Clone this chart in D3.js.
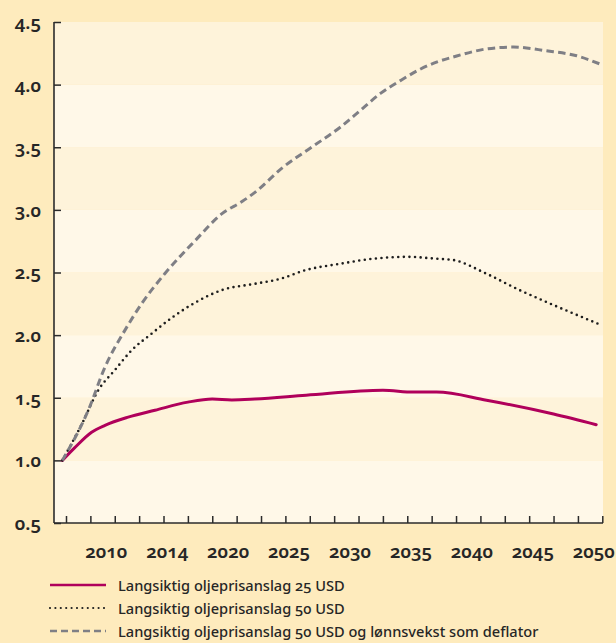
<!DOCTYPE html>
<html>
<head>
<meta charset="utf-8">
<script src="https://cdn.jsdelivr.net/npm/d3@7"></script>
<style>
  html, body { margin: 0; padding: 0; background: #feebbd; }
  svg { display: block; }
  text { font-family: "Noto Sans", sans-serif; font-feature-settings: "onum" 1; font-variant-numeric: oldstyle-nums; fill: #262626; }
  .tick-lbl { font-size: 18.5px; font-weight: 600; }
  .leg { font-size: 14.6px; font-weight: 500; }
</style>
</head>
<body>
<script>
// ---- Data ----
const years25 = [2005.7, 2006.7, 2008.1, 2009.2, 2011.1, 2013.3, 2016.0, 2018.0, 2019.6, 2021.5, 2025.7, 2032.0, 2034.5, 2036.4, 2040.5, 2046.0, 2049.5];
const vals25  = [1.00, 1.10, 1.225, 1.28, 1.345, 1.40, 1.465, 1.49, 1.483, 1.49, 1.52, 1.56, 1.545, 1.545, 1.48, 1.37, 1.285];

const years50 = [2005.7, 2007.3, 2008.65, 2010.0, 2011.4, 2013.0, 2014.7, 2016.6, 2018.8, 2021.5, 2023.6, 2025.7, 2028.5, 2031.2, 2034.0, 2036.4, 2037.75, 2040.5, 2043.2, 2046.0, 2049.8];
const vals50  = [1.00, 1.29, 1.56, 1.72, 1.88, 2.01, 2.14, 2.26, 2.36, 2.41, 2.45, 2.52, 2.57, 2.61, 2.625, 2.61, 2.60, 2.49, 2.36, 2.24, 2.085];

const years50w = [2005.7, 2007.83, 2009.2, 2010.84, 2012.2, 2014.1, 2016.6, 2018.8, 2020.5, 2021.5, 2023.8, 2026.3, 2028.5, 2030.1, 2031.8, 2033.4, 2035.0, 2036.4, 2037.75, 2040.5, 2042.7, 2045.4, 2047.9, 2049.8];
const vals50w  = [1.00, 1.40, 1.745, 2.04, 2.25, 2.49, 2.755, 2.97, 3.07, 3.14, 3.34, 3.51, 3.66, 3.79, 3.93, 4.03, 4.12, 4.18, 4.22, 4.285, 4.30, 4.27, 4.23, 4.165];

const yTicks = [0.5, 1.0, 1.5, 2.0, 2.5, 3.0, 3.5, 4.0, 4.5];
const xTickYears = d3.range(2006, 2051, 2);
const xLabelYears = [2010, 2015, 2020, 2025, 2030, 2035, 2040, 2045, 2050];
const xLabelTexts = ["2010", "2014", "2020", "2025", "2030", "2035", "2040", "2045", "2050"];
const seriesNames = [
  "Langsiktig oljeprisanslag 25 USD",
  "Langsiktig oljeprisanslag 50 USD",
  "Langsiktig oljeprisanslag 50 USD og lønnsvekst som deflator"
];

// ---- Layout ----
const W = 616, H = 643;
const axisX = 54, plotRight = 603;
const svg = d3.select("body").append("svg").attr("width", W).attr("height", H);

const x = d3.scaleLinear().domain([2006, 2050]).range([66, 602.3]);
const y = d3.scaleLinear().domain([0.5, 4.5]).range([523, 22]);

// bands
const bandStarts = d3.range(0.5, 4.5, 0.5);
svg.append("g").selectAll("rect").data(bandStarts).join("rect")
  .attr("x", axisX)
  .attr("width", plotRight - axisX)
  .attr("y", d => y(d + 0.5))
  .attr("height", d => y(d) - y(d + 0.5))
  .attr("fill", (d, i) => i % 2 === 0 ? "#fff8e8" : "#fef3da");

// y axis ticks + labels
const yAxis = d3.axisLeft(y).tickValues(yTicks).tickFormat(d3.format(".1f"))
  .tickSizeInner(-7).tickSizeOuter(0).tickPadding(13);
const gy = svg.append("g").attr("transform", `translate(${axisX},0)`).call(yAxis);
gy.select(".domain").remove();
gy.selectAll(".tick line").attr("stroke", "#2b2b2b").attr("stroke-width", 1.5);
gy.selectAll(".tick text").attr("class", "tick-lbl").attr("fill", "#262626").attr("dy", "0.35em");
gy.attr("font-size", null).attr("font-family", null);

// x axis ticks
const xAxis = d3.axisBottom(x).tickValues(xTickYears).tickFormat("")
  .tickSizeInner(-7).tickSizeOuter(0);
const gx = svg.append("g").attr("transform", `translate(0,${y(0.5)})`).call(xAxis);
gx.select(".domain").remove();
gx.selectAll(".tick line").attr("stroke", "#2b2b2b").attr("stroke-width", 1.5);

// axis lines
svg.append("line").attr("x1", axisX).attr("x2", axisX).attr("y1", y(4.5)).attr("y2", y(0.5))
  .attr("stroke", "#2b2b2b").attr("stroke-width", 1.6);
svg.append("line").attr("x1", axisX).attr("x2", plotRight).attr("y1", y(0.5)).attr("y2", y(0.5))
  .attr("stroke", "#2b2b2b").attr("stroke-width", 1.6);

// x labels
svg.append("g").selectAll("text").data(xLabelYears).join("text")
  .attr("class", "tick-lbl")
  .attr("x", d => x(d) - 8.5)
  .attr("y", 558)
  .attr("text-anchor", "middle")
  .text((d, i) => xLabelTexts[i]);

// lines
const line = d3.line().x(d => x(d[0])).y(d => y(d[1])).curve(d3.curveMonotoneX);
const series = [
  { pts: d3.zip(years25, vals25), stroke: "#b0005b", width: 3, dash: null, cap: "round" },
  { pts: d3.zip(years50, vals50), stroke: "#1e1e1e", width: 2.6, dash: "0,5.6", cap: "round" },
  { pts: d3.zip(years50w, vals50w), stroke: "#7f7f85", width: 3, dash: "7.5,4.3", cap: "butt" }
];
series.forEach(s => {
  svg.append("path").attr("d", line(s.pts)).attr("fill", "none")
    .attr("stroke", s.stroke).attr("stroke-width", s.width)
    .attr("stroke-dasharray", s.dash).attr("stroke-linecap", s.cap);
});

// legend
const legY = [585, 608, 631];
series.forEach((s, i) => {
  svg.append("line").attr("x1", 50).attr("x2", 106).attr("y1", legY[i]).attr("y2", legY[i])
    .attr("stroke", s.stroke).attr("stroke-width", i === 0 ? 2.6 : (i === 1 ? 2.2 : 2.6))
    .attr("stroke-dasharray", i === 1 ? "0,5.4" : (i === 2 ? "7,4" : null))
    .attr("stroke-linecap", i === 1 ? "round" : "butt");
  svg.append("text").attr("class", "leg").attr("x", 118).attr("y", legY[i] + 6)
    .text(seriesNames[i]);
});
</script>
</body>
</html>
